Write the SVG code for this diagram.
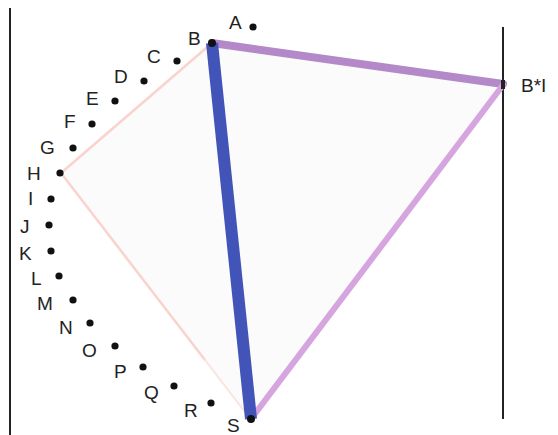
<svg xmlns="http://www.w3.org/2000/svg" width="558" height="435" viewBox="0 0 558 435">
<style>
text{font-family:"Liberation Sans",Arial,sans-serif;font-size:19px;fill:#222}
.dot{fill:#111}
.frame{stroke:#222;stroke-width:2;fill:none}
</style>
<rect width="558" height="435" fill="#fff"/>
<polygon points="212,43 503,85 251,419 200,355 60,173" fill="#fbfbfb"/>
<g id="frame">
<line class="frame" x1="10" y1="8" x2="10" y2="435"/>
<line class="frame" x1="503" y1="27" x2="503" y2="419"/>
</g>
<g id="connectors" fill="none" stroke-linecap="round">
<polyline points="212,43 61,173 205,360" stroke="#f9d3cc" stroke-width="2.5"/>
<line x1="205" y1="360" x2="245" y2="412" stroke="#fbe3de" stroke-width="2"/>
<line x1="212" y1="43" x2="503" y2="84" stroke="#b489c9" stroke-width="8"/>
<line x1="503" y1="85" x2="251" y2="419" stroke="#d6a4de" stroke-width="6"/>
<line x1="212" y1="43" x2="251" y2="419" stroke="#4254b8" stroke-width="12" stroke-linecap="butt"/>
</g>
<g id="A"><circle class="dot" cx="253" cy="27" r="3.6"/><text x="229" y="29">A</text></g>
<g id="B"><circle class="dot" cx="212" cy="43" r="4"/><text x="188" y="45">B</text></g>
<g id="C"><circle class="dot" cx="177" cy="61" r="3.6"/><text x="147" y="63">C</text></g>
<g id="D"><circle class="dot" cx="144" cy="81" r="3.6"/><text x="114" y="83">D</text></g>
<g id="E"><circle class="dot" cx="115" cy="101" r="3.6"/><text x="86" y="105">E</text></g>
<g id="F"><circle class="dot" cx="92" cy="124" r="3.6"/><text x="64" y="128">F</text></g>
<g id="G"><circle class="dot" cx="73" cy="148" r="3.6"/><text x="40" y="154">G</text></g>
<g id="H"><circle class="dot" cx="60" cy="173" r="3.6"/><text x="27" y="180">H</text></g>
<g id="I"><circle class="dot" cx="51" cy="199" r="3.6"/><text x="28" y="205">I</text></g>
<g id="J"><circle class="dot" cx="49" cy="225" r="3.6"/><text x="20" y="233">J</text></g>
<g id="K"><circle class="dot" cx="51" cy="251" r="3.6"/><text x="19" y="260">K</text></g>
<g id="L"><circle class="dot" cx="59" cy="276" r="3.6"/><text x="31" y="285">L</text></g>
<g id="M"><circle class="dot" cx="73" cy="300" r="3.6"/><text x="37" y="310">M</text></g>
<g id="N"><circle class="dot" cx="90" cy="323" r="3.6"/><text x="59" y="334">N</text></g>
<g id="O"><circle class="dot" cx="115" cy="346" r="3.6"/><text x="82" y="357">O</text></g>
<g id="P"><circle class="dot" cx="143" cy="367" r="3.6"/><text x="114" y="378">P</text></g>
<g id="Q"><circle class="dot" cx="174" cy="386" r="3.6"/><text x="144" y="399">Q</text></g>
<g id="R"><circle class="dot" cx="211" cy="403" r="3.6"/><text x="184" y="417">R</text></g>
<g id="S"><circle class="dot" cx="251" cy="419" r="4"/><text x="227" y="432">S</text></g>
<g id="BI"><rect x="501" y="80" width="4" height="9" fill="#222"/><text x="521" y="92">B*I</text></g>
</svg>
